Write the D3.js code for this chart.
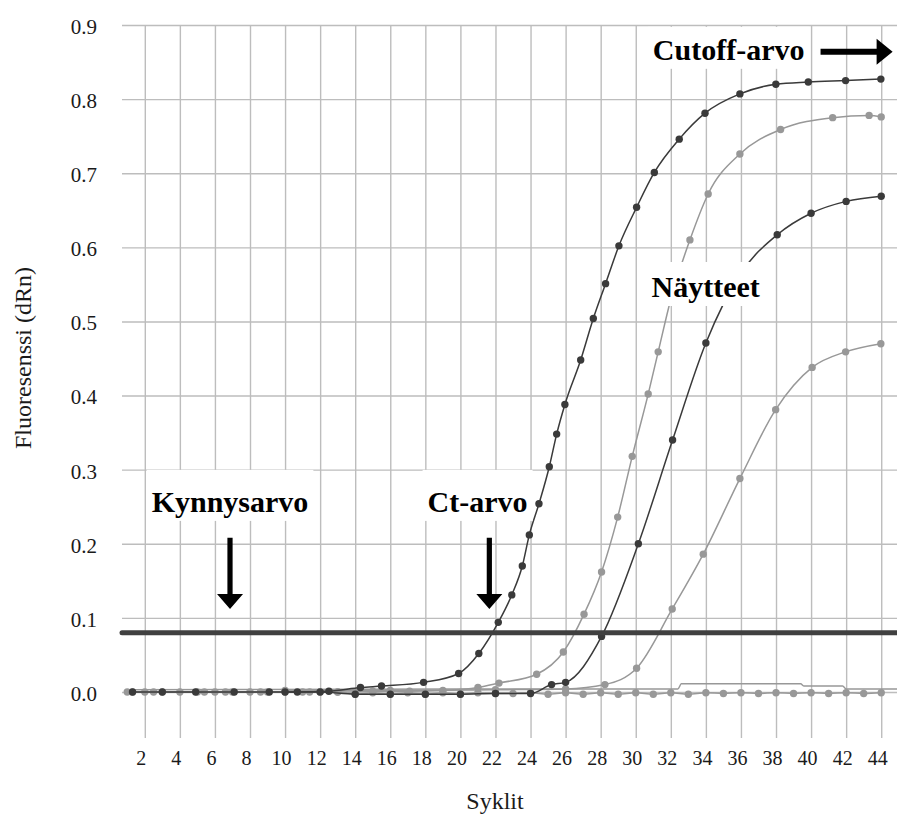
<!DOCTYPE html>
<html>
<head>
<meta charset="utf-8">
<script src="https://cdn.jsdelivr.net/npm/d3@7/dist/d3.min.js"></script>
<style>
  body { margin: 0; background: #fff; }
  svg { display: block; }
</style>
</head>
<body>
<div id="container"></div>
<script>
let w = 897;
let h = 817;

// tick labels
let xTicks = [2, 4, 6, 8, 10, 12, 14, 16, 18, 20, 22, 24, 26, 28, 30, 32, 34, 36, 38, 40, 42, 44];
let yTicks = [0, 0.1, 0.2, 0.3, 0.4, 0.5, 0.6, 0.7, 0.8, 0.9];

// threshold (Kynnysarvo)
let threshold = 0.08;

// series: [cycle, dRn]
let sample1 = [[1.3, 0], [3, 0], [4.9, 0], [7.1, 0], [9.1, 0], [10.7, 0], [12.5, 0.001], [14.3, 0.006],
  [15.5, 0.008], [17.9, 0.013], [19.9, 0.025], [21.05, 0.052], [22.16, 0.094], [22.93, 0.131],
  [23.53, 0.170], [23.93, 0.212], [24.48, 0.254], [25.07, 0.304], [25.49, 0.348], [25.96, 0.388],
  [26.86, 0.448], [27.58, 0.504], [28.28, 0.551], [29.04, 0.602], [30.05, 0.654], [31.06, 0.701],
  [32.48, 0.746], [33.95, 0.781], [35.94, 0.807], [37.99, 0.820], [39.84, 0.823], [41.97, 0.825],
  [43.98, 0.827]];

let sample2 = [[1.3, 0], [2.5, 0], [5.4, 0], [6.6, 0], [8.6, 0], [11.4, 0], [13, 0], [15, 0.001],
  [17.1, 0.001], [19, 0.002], [21, 0.006], [22.2, 0.012], [24.35, 0.024], [25.87, 0.054],
  [27.05, 0.105], [28.05, 0.162], [28.97, 0.236], [29.8, 0.318], [30.71, 0.402], [31.28, 0.459],
  [32, 0.53], [33.09, 0.610], [34.13, 0.672], [35.94, 0.726], [38.26, 0.759], [41.23, 0.775],
  [43.31, 0.778], [44, 0.776]];

let sample3 = [[10, 0], [12, 0], [14, -0.003], [16, -0.003], [18, -0.003], [20, -0.003], [22, -0.002],
  [24, -0.002], [25.2, 0.010], [26, 0.013], [28.05, 0.075], [30.15, 0.200], [32.1, 0.340],
  [34, 0.471], [36, 0.565], [38.07, 0.617], [40, 0.646], [42, 0.662], [44, 0.669]];

let sample4 = [[10, 0.002], [16, 0.002], [22, 0.003], [26, 0.004], [28.24, 0.010], [30.05, 0.032],
  [32.08, 0.112], [33.85, 0.186], [35.94, 0.288], [37.98, 0.381], [40.06, 0.438], [41.97, 0.459],
  [43.98, 0.470]];

let negative = [[1, 0], [2, 0], [3, 0], [4, 0], [5, 0], [6, 0], [7, 0], [8, 0], [9, 0], [10, 0], [11, 0],
  [12, 0], [13, 0], [14, -0.003], [15, -0.001], [16, -0.003], [17, -0.001], [18, -0.003], [19, -0.001],
  [20, -0.003], [21, -0.001], [22, -0.002], [23, -0.002], [24, -0.001], [25, -0.003], [26, -0.001],
  [27, -0.003], [28, -0.001], [29, -0.003], [30, -0.001], [31, -0.003], [32, -0.001], [33, -0.003],
  [34, -0.001], [35, -0.002], [36, -0.001], [37, -0.002], [38, -0.001], [39, -0.002], [40, -0.001],
  [41, -0.002], [42, -0.001], [43, -0.002], [44, -0.001]];

let drift = [[1, 0.003], [20, 0.004], [32.4, 0.004], [32.6, 0.011], [39.4, 0.011], [39.6, 0.008],
  [41.8, 0.008], [42, 0.004], [44.9, 0.004]];

// annotation labels
let labelTexts = ['Kynnysarvo', 'Ct-arvo', 'Näytteet', 'Cutoff-arvo'];
let labelCycles = [6.86, 20.98, 33.99, 35.3];
let labelValues = [0.243, 0.243, 0.533, 0.853];
let labelPadTop = [15, 15, 8, 6];

let dark = '#3a3a3a';
let light = '#989898';
let grid = '#bdbdbd';
let fontSerif = "'Liberation Serif', 'Times New Roman', serif";

let viz = d3.select('#container')
  .append('svg')
  .attr('width', w)
  .attr('height', h);

viz.append('rect').attr('width', w).attr('height', h).attr('fill', '#fff');

let xScale = d3.scaleLinear().domain([0.7, 44.9]).range([122, 897]);
let yScale = d3.scaleLinear().domain([0, 0.9]).range([692, 25]);
let gridBottom = 738;

// x gridlines + labels
let xAxis = d3.axisBottom(xScale)
  .tickValues(xTicks)
  .tickSize(-(gridBottom - yScale(0.9)))
  .tickPadding(13)
  .tickFormat(d3.format('d'));
let xAxisGroup = viz.append('g').attr('class', 'xaxis')
  .attr('transform', 'translate(0,' + gridBottom + ')')
  .call(xAxis);
xAxisGroup.select('.domain').remove();
xAxisGroup.selectAll('line').attr('stroke', grid).attr('stroke-width', 1.4);
xAxisGroup.selectAll('text')
  .attr('dx', -4)
  .attr('fill', '#1a1a1a')
  .attr('font-family', fontSerif)
  .attr('font-size', '20px');

// y gridlines + labels
let yAxis = d3.axisLeft(yScale)
  .tickValues(yTicks)
  .tickSize(-(897 - 122))
  .tickPadding(25)
  .tickFormat(d3.format('.1f'));
let yAxisGroup = viz.append('g').attr('class', 'yaxis')
  .attr('transform', 'translate(122,0)')
  .call(yAxis);
yAxisGroup.select('.domain').remove();
yAxisGroup.selectAll('line').attr('stroke', grid).attr('stroke-width', 1.4);
yAxisGroup.selectAll('text')
  .attr('dy', '0.4em')
  .attr('fill', '#1a1a1a')
  .attr('font-family', fontSerif)
  .attr('font-size', '21px');

// axis titles
viz.append('text')
  .text('Fluoresenssi (dRn)')
  .attr('transform', 'translate(31,' + 358 + ') rotate(-90)')
  .attr('text-anchor', 'middle')
  .attr('font-family', fontSerif)
  .attr('font-size', '24px')
  .attr('fill', '#1a1a1a');

viz.append('text')
  .text('Syklit')
  .attr('x', 495)
  .attr('y', 809)
  .attr('text-anchor', 'middle')
  .attr('font-family', fontSerif)
  .attr('font-size', '24px')
  .attr('fill', '#1a1a1a');

// curves
let line = d3.line()
  .x(d => xScale(d[0]))
  .y(d => yScale(d[1]))
  .curve(d3.curveMonotoneX);

let seriesList = [
  { data: drift, color: light, dots: false },
  { data: negative, color: light, dots: true },
  { data: sample4, color: light, dots: true },
  { data: sample2, color: light, dots: true },
  { data: sample3, color: dark, dots: true },
  { data: sample1, color: dark, dots: true }
];

let curveGroup = viz.append('g').attr('class', 'curves');
seriesList.forEach(s => {
  curveGroup.append('path')
    .datum(s.data)
    .attr('d', line)
    .attr('fill', 'none')
    .attr('stroke', s.color)
    .attr('stroke-width', 1.5);
  if (s.dots) {
    curveGroup.append('g').selectAll('circle')
      .data(s.data)
      .enter()
      .append('circle')
      .attr('cx', d => xScale(d[0]))
      .attr('cy', d => yScale(d[1]))
      .attr('r', 3.7)
      .attr('fill', s.color);
  }
});

// threshold line
viz.append('line')
  .attr('x1', xScale.range()[0])
  .attr('x2', xScale.range()[1])
  .attr('y1', yScale(threshold))
  .attr('y2', yScale(threshold))
  .attr('stroke', '#404040')
  .attr('stroke-width', 5)
  .attr('stroke-linecap', 'round');

// annotation labels with white boxes
let annoGroup = viz.append('g').attr('class', 'annotations');
labelTexts.forEach((t, i) => {
  let g = annoGroup.append('g');
  let rect = g.append('rect').attr('fill', '#fff');
  let txt = g.append('text')
    .text(t)
    .attr('x', xScale(labelCycles[i]))
    .attr('y', yScale(labelValues[i]))
    .attr('text-anchor', 'middle')
    .attr('font-family', fontSerif)
    .attr('font-weight', 'bold')
    .attr('font-size', '30px')
    .attr('fill', '#000');
  let bb = txt.node().getBBox();
  rect.attr('x', bb.x - 5)
    .attr('y', bb.y - labelPadTop[i])
    .attr('width', bb.width + 10)
    .attr('height', bb.height + labelPadTop[i] + 3);
});

// arrows
function downArrow(cx, vTop, vTip) {
  let x = xScale(cx);
  let yTop = yScale(vTop);
  let yTip = yScale(vTip);
  let headLen = 15, headW = 13, shaftW = 2.6;
  let p = d3.path();
  p.moveTo(x - shaftW, yTop);
  p.lineTo(x + shaftW, yTop);
  p.lineTo(x + shaftW, yTip - headLen);
  p.lineTo(x + headW, yTip - headLen);
  p.lineTo(x, yTip);
  p.lineTo(x - headW, yTip - headLen);
  p.lineTo(x - shaftW, yTip - headLen);
  p.closePath();
  viz.append('path').attr('d', p.toString()).attr('fill', '#000');
}

function rightArrow(c0, c1, v) {
  let x0 = xScale(c0);
  let x1 = xScale(c1);
  let y = yScale(v);
  let headLen = 16, headW = 13, shaftW = 3;
  let p = d3.path();
  p.moveTo(x0, y - shaftW);
  p.lineTo(x1 - headLen, y - shaftW);
  p.lineTo(x1 - headLen, y - headW);
  p.lineTo(x1, y);
  p.lineTo(x1 - headLen, y + headW);
  p.lineTo(x1 - headLen, y + shaftW);
  p.lineTo(x0, y + shaftW);
  p.closePath();
  viz.append('path').attr('d', p.toString()).attr('fill', '#000');
}

downArrow(6.86, 0.208, 0.112);
downArrow(21.65, 0.208, 0.112);
rightArrow(40.54, 44.65, 0.864);
</script>
</body>
</html>
